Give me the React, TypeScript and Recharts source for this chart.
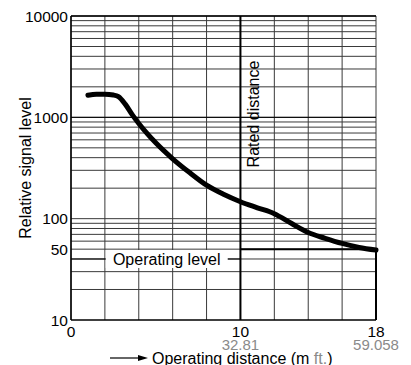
import React from 'react';
import {
  LineChart,
  Line,
  XAxis,
  YAxis,
  CartesianGrid,
  ReferenceLine,
} from 'recharts';

// operating distance (m) vs relative signal level
const distance = [1, 1.5, 2, 2.5, 2.8, 3.2, 3.6, 4, 4.5, 5, 6, 7, 8, 9, 10, 11, 12, 13, 14, 15, 16, 17, 18];
const signal = [1650, 1690, 1690, 1660, 1600, 1350, 1070, 870, 690, 560, 390, 285, 214, 174, 147, 128, 112, 90, 73, 64, 57, 52, 49];

const xGridTicks = [0, 2, 4, 6, 8, 10, 12, 14, 16, 18];
const xLabelTicks = [0, 10, 18];
const feetLabels = ['', '32.81', '59.058'];
const yTicks = [10, 50, 100, 1000, 10000];
const yGrid = [
  20, 30, 40, 50, 60, 70, 80, 90, 100,
  200, 300, 400, 500, 600, 700, 800, 900, 1000,
  2000, 3000, 4000, 5000, 6000, 7000, 8000, 9000, 10000,
];

const RATED_DISTANCE = 10;
const OPERATING_LEVEL = 50;
const MAX_DISTANCE = 18;

const data = distance.map((d, i) => ({ d, v: signal[i] }));

const FONT = '"Liberation Sans", Arial, Helvetica, sans-serif';

const XTick = (props: any) => {
  const { x, y, payload } = props;
  const idx = xLabelTicks.indexOf(payload.value);
  if (idx < 0) return null;
  return (
    <g>
      <text x={x} y={y + 15} textAnchor="middle" fontSize={15.5} fontFamily={FONT} fill="#000">
        {payload.value}
      </text>
      {feetLabels[idx] && (
        <text x={x} y={y + 28} textAnchor="middle" fontSize={15} fontFamily={FONT} fill="#8a8a8a">
          {feetLabels[idx]}
        </text>
      )}
    </g>
  );
};

const XLabel = (props: any) => {
  const { viewBox } = props;
  const x0 = viewBox.x + 39;
  const y0 = viewBox.y + 38;
  return (
    <g>
      <line x1={x0} y1={y0} x2={x0 + 32} y2={y0} stroke="#000" strokeWidth={1.2} />
      <polygon points={`${x0 + 28},${y0 - 3} ${x0 + 38},${y0} ${x0 + 28},${y0 + 3}`} fill="#000" />
      <text x={x0 + 42} y={y0 + 6} fontSize={16} fontFamily={FONT} fill="#000">
        Operating distance (m <tspan fill="#8a8a8a">ft.</tspan>)
      </text>
    </g>
  );
};

const YLabel = (props: any) => {
  const { viewBox } = props;
  const cx = 25;
  const cy = viewBox.y + viewBox.height / 2;
  return (
    <text
      x={cx}
      y={cy}
      transform={`rotate(-90, ${cx}, ${cy})`}
      textAnchor="middle"
      dominantBaseline="central"
      fontSize={16}
      fontFamily={FONT}
      fill="#000"
    >
      Relative signal level
    </text>
  );
};

const RatedLabel = (props: any) => {
  const { viewBox } = props;
  const cx = viewBox.x + 13;
  const cy = viewBox.y + 98;
  return (
    <text
      x={cx}
      y={cy}
      transform={`rotate(-90, ${cx}, ${cy})`}
      textAnchor="middle"
      dominantBaseline="central"
      fontSize={16}
      fontFamily={FONT}
      fill="#000"
    >
      Rated distance
    </text>
  );
};

const OperatingLabel = (props: any) => {
  const { viewBox } = props;
  const cx = viewBox.x + viewBox.width / 2 + 11;
  const cy = viewBox.y;
  return (
    <g>
      <rect x={cx - 61} y={cy - 9} width={122} height={18} fill="#fff" />
      <text x={cx} y={cy + 1} textAnchor="middle" dominantBaseline="central" fontSize={16} fontFamily={FONT} fill="#000">
        Operating level
      </text>
    </g>
  );
};

export default function App() {
  return (
    <div style={{ position: 'absolute', left: 0, top: 0, background: '#fff' }}>
      <LineChart width={411} height={365} data={data} margin={{ top: 16, right: 35, bottom: 0, left: 0 }}>
        <CartesianGrid stroke="#3a3a3a" strokeWidth={1} horizontalValues={yGrid} verticalValues={xGridTicks} />
        <XAxis
          dataKey="d"
          type="number"
          domain={[0, MAX_DISTANCE]}
          ticks={xGridTicks}
          interval={0}
          height={45}
          tickLine={false}
          tickSize={0}
          axisLine={{ stroke: '#000', strokeWidth: 1.5 }}
          tick={<XTick />}
          label={<XLabel />}
        />
        <YAxis
          type="number"
          scale="log"
          domain={[10, 10000]}
          allowDataOverflow
          ticks={yTicks}
          interval={0}
          width={71}
          tickLine={false}
          tickSize={0}
          tickMargin={3}
          axisLine={{ stroke: '#000', strokeWidth: 1.5 }}
          tick={{ fontSize: 15.5, fill: '#000', fontFamily: FONT }}
          label={<YLabel />}
        />
        <ReferenceLine y={10000} stroke="#000" strokeWidth={1.5} />
        <ReferenceLine y={1000} stroke="#000" strokeWidth={1} />
        <ReferenceLine
          segment={[{ x: 0, y: 40 }, { x: RATED_DISTANCE, y: 40 }]}
          stroke="#000"
          strokeWidth={1}
          label={<OperatingLabel />}
        />
        <ReferenceLine x={RATED_DISTANCE} stroke="#000" strokeWidth={2} label={<RatedLabel />} />
        <ReferenceLine
          segment={[{ x: RATED_DISTANCE, y: OPERATING_LEVEL }, { x: MAX_DISTANCE, y: OPERATING_LEVEL }]}
          stroke="#000"
          strokeWidth={2}
        />
        <ReferenceLine
          segment={[{ x: MAX_DISTANCE, y: OPERATING_LEVEL }, { x: MAX_DISTANCE, y: 10 }]}
          stroke="#000"
          strokeWidth={2}
        />
        <Line
          type="monotone"
          dataKey="v"
          stroke="#000"
          strokeWidth={5}
          dot={false}
          strokeLinecap="round"
          isAnimationActive={false}
        />
      </LineChart>
    </div>
  );
}
